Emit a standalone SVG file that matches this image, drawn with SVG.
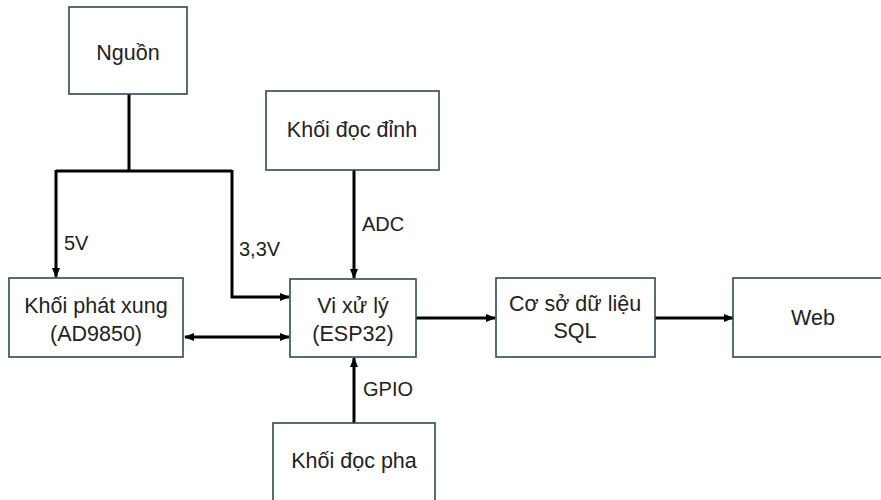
<svg xmlns="http://www.w3.org/2000/svg" width="881" height="500" viewBox="0 0 881 500">
<style>
.box{fill:#fff;stroke:#2f4858;stroke-width:1.6}
.t{font-family:"Liberation Sans",Arial,sans-serif;font-size:21.5px;fill:#222;text-anchor:middle}
.lb{font-family:"Liberation Sans",Arial,sans-serif;font-size:20px;fill:#222}
.c{fill:none;stroke:#000;stroke-width:3}
</style>
<defs>
<marker id="ah" markerUnits="userSpaceOnUse" markerWidth="10" markerHeight="10" viewBox="0 0 10 10" refX="9" refY="5" orient="auto-start-reverse">
<path d="M0,1 L10,5 L0,9 Z" fill="#000"/>
</marker>
</defs>
<rect width="881" height="500" fill="#fff"/>
<g id="connectors">
<path class="c" d="M129,94 V171"/>
<path class="c" d="M56,171 H232"/>
<path class="c" d="M56,170 V277" marker-end="url(#ah)"/>
<path class="c" d="M232,170 V297 H289" marker-end="url(#ah)"/>
<path class="c" d="M185,337 H289" marker-start="url(#ah)" marker-end="url(#ah)"/>
<path class="c" d="M354,170 V278" marker-end="url(#ah)"/>
<path class="c" d="M354,423 V358" marker-end="url(#ah)"/>
<path class="c" d="M416,318 H495" marker-end="url(#ah)"/>
<path class="c" d="M655,318 H733" marker-end="url(#ah)"/>
<text class="lb" x="64" y="250">5V</text>
<text class="lb" x="239" y="256">3,3V</text>
<text class="lb" x="362" y="231">ADC</text>
<text class="lb" x="363" y="396">GPIO</text>
</g>
<g id="nguon">
<rect class="box" x="69" y="7" width="118" height="87"/>
<text class="t" x="128" y="60">Nguồn</text>
</g>
<g id="khoi-doc-dinh">
<rect class="box" x="266" y="91" width="173" height="79"/>
<text class="t" x="352" y="137">Khối đọc đỉnh</text>
</g>
<g id="khoi-phat-xung">
<rect class="box" x="9" y="278" width="174" height="79"/>
<text class="t" x="96" y="313">Khối phát xung</text>
<text class="t" x="96" y="341">(AD9850)</text>
</g>
<g id="vi-xu-ly">
<rect class="box" x="290" y="279" width="126" height="78"/>
<text class="t" x="353" y="313">Vi xử lý</text>
<text class="t" x="353" y="341">(ESP32)</text>
</g>
<g id="csdl">
<rect class="box" x="496" y="278" width="159" height="79"/>
<text class="t" x="575" y="311">Cơ sở dữ liệu</text>
<text class="t" x="575" y="338">SQL</text>
</g>
<g id="web">
<rect class="box" x="733" y="278" width="152" height="79"/>
<text class="t" x="813" y="325">Web</text>
</g>
<g id="khoi-doc-pha">
<rect class="box" x="273" y="423" width="162" height="80"/>
<text class="t" x="354" y="468">Khối đọc pha</text>
</g>
</svg>
